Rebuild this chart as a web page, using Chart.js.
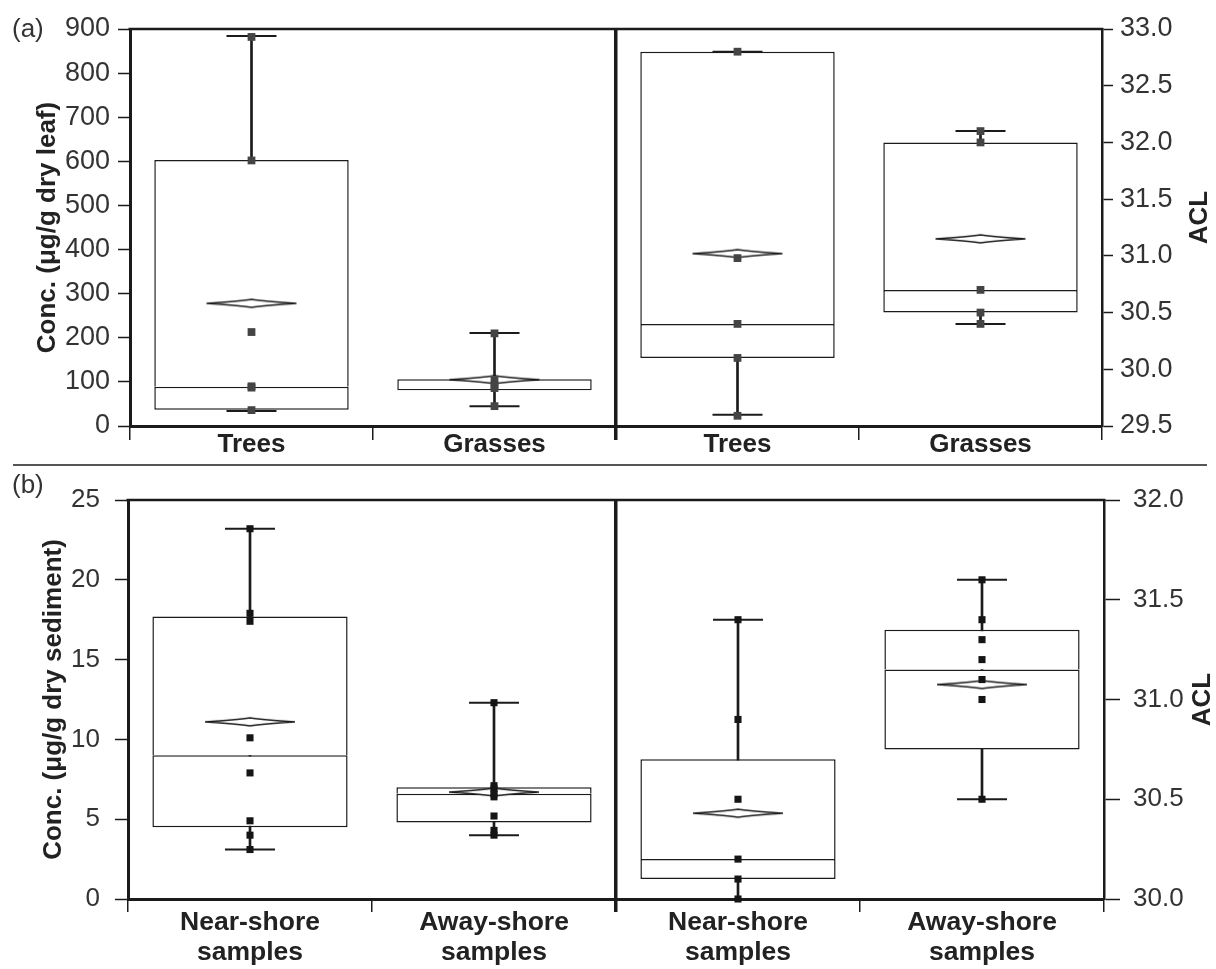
<!DOCTYPE html>
<html><head><meta charset="utf-8">
<script src="https://cdn.jsdelivr.net/npm/chart.js@4.4.1/dist/chart.umd.min.js"></script>
<style>
html,body{margin:0;padding:0;background:#fff;}
#wrap{position:relative;width:1216px;height:969px;overflow:hidden;background:#fff;}
canvas{position:absolute;left:0;}
#ca{top:0;} #cb{top:465px;}
.plabel{position:absolute;font-family:"Liberation Sans",Arial,sans-serif;font-size:26px;color:#333;line-height:1;}
#sep{position:absolute;left:13px;top:464px;width:1194px;height:2px;background:#555;}
</style></head>
<body><div id="wrap">
<canvas id="ca" width="1216" height="465"></canvas>
<canvas id="cb" width="1216" height="504"></canvas>
<div id="sep"></div>
<div class="plabel" style="left:12px;top:15px">(a)</div>
<div class="plabel" style="left:12px;top:471px">(b)</div>
</div>
<script>
// ---------------- Panel (a) data ----------------
const aLabels = ['Trees', 'Grasses', 'Trees', 'Grasses'];
const aConcTicks = [0, 100, 200, 300, 400, 500, 600, 700, 800, 900];
const aAclTicks = [29.5, 30.0, 30.5, 31.0, 31.5, 32.0, 32.5, 33.0];
const aConcMin = [34, 45];
const aConcQ1 = [37, 81];
const aConcMedian = [89, 84];
const aConcQ3 = [603, 106];
const aConcMax = [884, 211];
const aConcMean = [278, 105];
const aConcPoints = [[882, 602, 213, 90, 87, 36], [210, 104, 92, 86, 45]];
const aAclMin = [29.60, 30.40];
const aAclQ1 = [30.10, 30.50];
const aAclMedian = [30.40, 30.70];
const aAclQ3 = [32.80, 32.00];
const aAclMax = [32.80, 32.10];
const aAclMean = [31.02, 31.15];
const aAclPoints = [[32.80, 30.98, 30.40, 30.10, 29.59], [32.10, 32.00, 30.70, 30.50, 30.40]];

// ---------------- Panel (b) data ----------------
const bLabels = [['Near-shore', 'samples'], ['Away-shore', 'samples'], ['Near-shore', 'samples'], ['Away-shore', 'samples']];
const bConcTicks = [0, 5, 10, 15, 20, 25];
const bAclTicks = [30.0, 30.5, 31.0, 31.5, 32.0];
const bConcMin = [3.1, 4.0];
const bConcQ1 = [4.5, 4.8];
const bConcMedian = [9.0, 6.6];
const bConcQ3 = [17.7, 7.0];
const bConcMax = [23.2, 12.3];
const bConcMean = [11.1, 6.7];
const bConcPoints = [[23.2, 17.9, 17.4, 10.1, 7.9, 4.9, 4.0, 3.1], [12.3, 7.1, 6.9, 6.6, 6.4, 5.2, 4.3, 4.0]];
const bAclMin = [30.0, 30.5];
const bAclQ1 = [30.1, 30.75];
const bAclMedian = [30.2, 31.15];
const bAclQ3 = [30.7, 31.35];
const bAclMax = [31.4, 31.6];
const bAclMean = [30.43, 31.075];
const bAclPoints = [[31.4, 30.9, 30.5, 30.2, 30.1, 30.0], [31.6, 31.4, 31.3, 31.2, 31.1, 31.0, 30.5]];

// ---------------- rendering ----------------
Chart.defaults.font.family = '"Liberation Sans", Arial, Helvetica, sans-serif';
const INK = '#1b1b1b';
const TEXT = '#333';

function makeDiamond(w, h) {
  const c = document.createElement('canvas');
  c.width = w + 4; c.height = h + 4;
  const g = c.getContext('2d');
  const cx = c.width / 2, cy = c.height / 2;
  g.beginPath();
  g.moveTo(cx - w / 2, cy);
  g.quadraticCurveTo(cx - w * 0.15, cy - h * 0.25, cx, cy - h / 2);
  g.quadraticCurveTo(cx + w * 0.15, cy - h * 0.25, cx + w / 2, cy);
  g.quadraticCurveTo(cx + w * 0.15, cy + h * 0.25, cx, cy + h / 2);
  g.quadraticCurveTo(cx - w * 0.15, cy + h * 0.25, cx - w / 2, cy);
  g.closePath();
  g.fillStyle = '#fff'; g.fill();
  g.lineWidth = 1.3; g.strokeStyle = INK; g.stroke();
  return c;
}
const DIAMOND = makeDiamond(90, 8);

function sideDatasets(st, axis, slots, sty) {
  const put = vals => { const a = [null, null, null, null]; slots.forEach((c, i) => { a[c] = vals[i]; }); return a; };
  const idx = st.min.map((_, i) => i);
  const boxBase = { type: 'bar', yAxisID: axis, grouped: false, barPercentage: 0.8, categoryPercentage: 1,
    backgroundColor: '#fff', borderColor: INK, borderWidth: 1.5, inflateAmount: 0 };
  const list = [
    { type: 'bar', yAxisID: axis, grouped: false, barThickness: 2, backgroundColor: INK, borderWidth: 0,
      data: put(idx.map(i => [st.min[i], st.max[i]])), order: 10 },
    Object.assign({}, boxBase, { data: put(idx.map(i => [st.q1[i], st.median[i]])), borderSkipped: false, order: 6 }),
    Object.assign({}, boxBase, { data: put(idx.map(i => [st.median[i], st.q3[i]])), borderSkipped: 'bottom', order: 5 }),
    { type: 'line', yAxisID: axis, showLine: false, pointStyle: 'line', pointRadius: 25, pointBorderWidth: 2,
      pointBorderColor: INK, data: put(st.max), clip: false, order: 4 },
    { type: 'line', yAxisID: axis, showLine: false, pointStyle: 'line', pointRadius: 25, pointBorderWidth: 2,
      pointBorderColor: INK, data: put(st.min), clip: false, order: 4 },
    { type: 'line', yAxisID: axis, showLine: false, pointStyle: DIAMOND, pointRadius: 5,
      data: put(st.mean), clip: false, order: 3 }
  ];
  const maxPts = Math.max(...st.points.map(p => p.length));
  for (let k = 0; k < maxPts; k++) {
    list.push({ type: 'line', yAxisID: axis, showLine: false, pointStyle: 'rect', pointRadius: sty.pr,
      pointBackgroundColor: sty.pc, pointBorderWidth: 0, clip: false, order: 1,
      data: put(st.points.map(p => (p[k] === undefined ? null : p[k]))) });
  }
  return list;
}

const framePlugin = {
  id: 'frame',
  afterDraw(chart, args, o) {
    const { ctx, chartArea: a } = chart;
    ctx.save();
    ctx.strokeStyle = INK; ctx.lineWidth = 2.5;
    ctx.beginPath(); ctx.moveTo(a.left - 1.5, a.top); ctx.lineTo(a.right + 1.25, a.top); ctx.stroke();
    const s = chart.scales.y2;
    ctx.font = 'bold 26px "Liberation Sans", Arial, sans-serif';
    ctx.fillStyle = '#222';
    ctx.translate(s.right - o.dx, (s.top + s.bottom) / 2 + o.dy);
    ctx.rotate(-Math.PI / 2);
    ctx.textAlign = 'center'; ctx.textBaseline = 'middle';
    ctx.fillText(o.title, 0, 0);
    ctx.restore();
  }
};

function yAxis(ticksArr, pos, c, fmt) {
  return {
    type: 'linear', position: pos, min: ticksArr[0], max: ticksArr[ticksArr.length - 1],
    afterBuildTicks: s => { s.ticks = ticksArr.map(v => ({ value: v })); },
    ticks: { color: TEXT, font: { size: c.fs }, padding: c.pad, callback: fmt },
    grid: { drawOnChartArea: false, drawTicks: true, tickLength: c.tl, tickColor: INK, tickWidth: 1.5 },
    border: { display: true, color: INK, width: c.bw },
    afterFit: s => { s.width = c.w; }
  };
}

function makeChart(id, cfg) {
  const yL = yAxis(cfg.leftTicks, 'left', cfg.yl, v => String(v));
  yL.title = { display: true, text: cfg.leftTitle, color: '#222', font: { size: 26, weight: 'bold' },
    padding: { top: cfg.titlePad, bottom: 0 } };
  const yR = yAxis(cfg.rightTicks, 'right', cfg.yr, v => Number(v).toFixed(1));
  return new Chart(document.getElementById(id), {
    type: 'bar',
    data: { labels: cfg.labels,
      datasets: [...sideDatasets(cfg.left, 'y', [0, 1], cfg.sty), ...sideDatasets(cfg.right, 'y2', [2, 3], cfg.sty)] },
    options: {
      responsive: false, animation: false, events: [],
      layout: { padding: { top: cfg.top, left: 0, right: 0, bottom: 0 } },
      plugins: { legend: { display: false }, tooltip: { enabled: false },
        frame: { title: 'ACL', dx: cfg.acl.dx, dy: cfg.acl.dy } },
      scales: {
        x: { type: 'category', offset: true,
          grid: { offset: true, drawOnChartArea: true, drawTicks: true, tickLength: cfg.xTick,
            color: c => (c.index === 2 ? INK : 'rgba(0,0,0,0)'),
            lineWidth: c => (c.index === 2 ? 3.5 : 1.5),
            tickColor: INK, tickWidth: c => (c.index === 2 ? 3.5 : 1.5) },
          border: { display: true, color: INK, width: 3 },
          ticks: { color: '#222', font: { size: cfg.xFs, weight: 'bold', lineHeight: cfg.xLine },
            padding: cfg.xPad, maxRotation: 0, autoSkip: false },
          afterFit: s => { s.height = cfg.xH; } },
        y: yL,
        y2: yR
      }
    },
    plugins: [framePlugin]
  });
}

makeChart('ca', {
  labels: aLabels, top: 29, xH: 39, xTick: 14, xPad: -8, xLine: 1.0, xFs: 26,
  leftTicks: aConcTicks, rightTicks: aAclTicks,
  leftTitle: 'Conc. (\u03BCg/g dry leaf)', titlePad: 32,
  yl: { fs: 27, pad: 8, tl: 12, bw: 3, w: 130 },
  yr: { fs: 27, pad: 7, tl: 11, bw: 2.5, w: 114 },
  acl: { dx: 16, dy: -10 },
  sty: { pr: 5.5, pc: '#444' },
  left: { min: aConcMin, q1: aConcQ1, median: aConcMedian, q3: aConcQ3, max: aConcMax, mean: aConcMean, points: aConcPoints },
  right: { min: aAclMin, q1: aAclQ1, median: aAclMedian, q3: aAclQ3, max: aAclMax, mean: aAclMean, points: aAclPoints }
});

makeChart('cb', {
  labels: bLabels, top: 35, xH: 70, xTick: 13, xPad: -4.5, xLine: 1.13, xFs: 26.5,
  leftTicks: bConcTicks, rightTicks: bAclTicks,
  leftTitle: 'Conc. (\u03BCg/g dry sediment)', titlePad: 38,
  yl: { fs: 26, pad: 15, tl: 13, bw: 3, w: 128 },
  yr: { fs: 26, pad: 13, tl: 16, bw: 2.5, w: 112 },
  acl: { dx: 13, dy: 0 },
  sty: { pr: 5, pc: '#151515' },
  left: { min: bConcMin, q1: bConcQ1, median: bConcMedian, q3: bConcQ3, max: bConcMax, mean: bConcMean, points: bConcPoints },
  right: { min: bAclMin, q1: bAclQ1, median: bAclMedian, q3: bAclQ3, max: bAclMax, mean: bAclMean, points: bAclPoints }
});
</script>
</body></html>
